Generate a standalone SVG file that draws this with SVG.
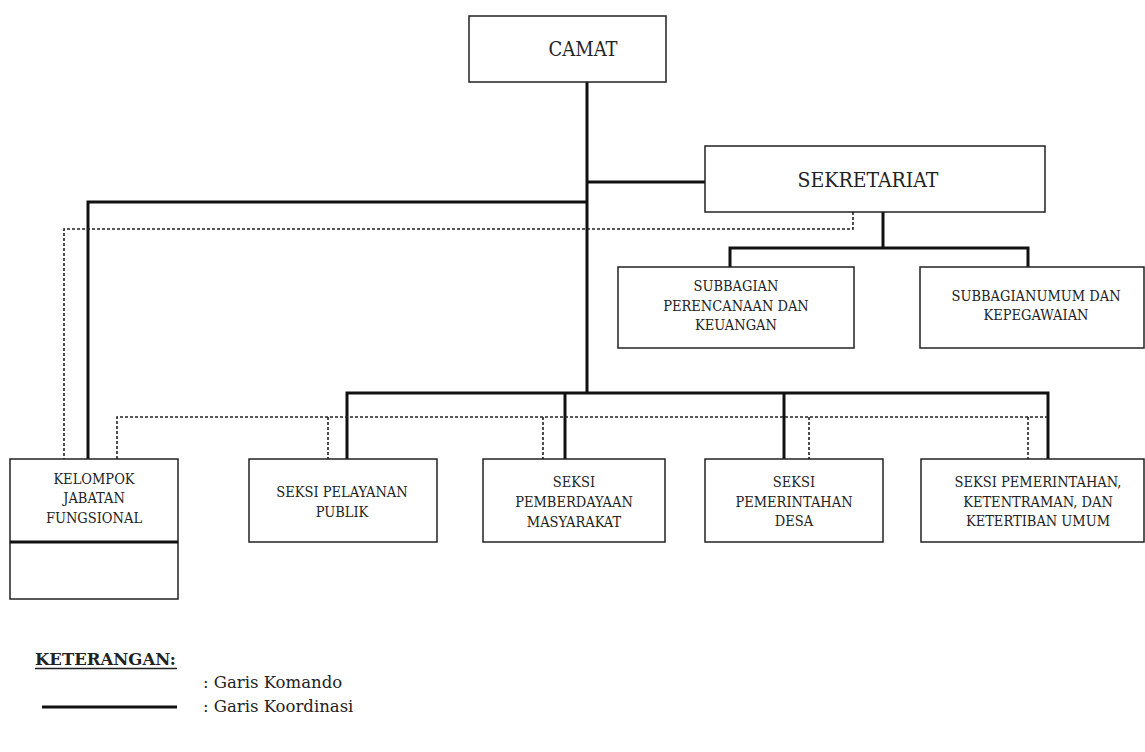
<svg xmlns="http://www.w3.org/2000/svg" width="1145" height="752" viewBox="0 0 1145 752">
<style>
.box{fill:#fff;stroke:#222;stroke-width:1.5}
.cmd{fill:none;stroke:#111;stroke-width:3}
.crd{fill:none;stroke:#222;stroke-width:1.6;stroke-dasharray:3 2}
.lbl{font-family:"DejaVu Serif Condensed","DejaVu Serif",serif;font-stretch:condensed;font-size:14.5px;fill:#222;text-anchor:middle}
.big{font-family:"DejaVu Serif Condensed","DejaVu Serif",serif;font-stretch:condensed;font-size:20px;fill:#222;text-anchor:middle}
.leg{font-family:"DejaVu Serif",serif;font-size:16.5px;fill:#222}
</style>
<rect width="1145" height="752" fill="#fff"/>
<g id="connectors">
<path class="cmd" d="M587 82 V393"/>
<path class="cmd" d="M587 182 H705"/>
<path class="cmd" d="M587 202 H88 V459"/>
<path class="cmd" d="M883 212 V248"/>
<path class="cmd" d="M730 267 V248 H1028 V267"/>
<path class="cmd" d="M347 459 V393 H1048 V459"/>
<path class="cmd" d="M565 393 V459"/>
<path class="cmd" d="M784 393 V459"/>
<path class="crd" d="M853 212 V229 H64 V459"/>
<path class="crd" d="M117 459 V417 H1048"/>
<path class="crd" d="M328 417 V459"/>
<path class="crd" d="M543 417 V459"/>
<path class="crd" d="M809 417 V459"/>
<path class="crd" d="M1028 417 V459"/>
</g>
<g id="camat">
<rect class="box" x="469" y="16" width="197" height="66"/>
<text class="big" x="583" y="56">CAMAT</text>
</g>
<g id="sekretariat">
<rect class="box" x="705" y="146" width="340" height="66"/>
<text class="big" x="868" y="187" style="font-size:21px">SEKRETARIAT</text>
</g>
<g id="subbagian-perencanaan">
<rect class="box" x="618" y="267" width="236" height="81"/>
<text class="lbl" x="736" y="291">SUBBAGIAN</text>
<text class="lbl" x="736" y="311">PERENCANAAN DAN</text>
<text class="lbl" x="736" y="330">KEUANGAN</text>
</g>
<g id="subbagian-umum">
<rect class="box" x="920" y="267" width="224" height="81"/>
<text class="lbl" x="1036" y="301">SUBBAGIANUMUM DAN</text>
<text class="lbl" x="1036" y="320">KEPEGAWAIAN</text>
</g>
<g id="kelompok">
<rect class="box" x="10" y="459" width="168" height="140"/>
<path d="M10 542 H178" stroke="#111" stroke-width="3"/>
<text class="lbl" x="94" y="484">KELOMPOK</text>
<text class="lbl" x="94" y="503">JABATAN</text>
<text class="lbl" x="94" y="523">FUNGSIONAL</text>
</g>
<g id="seksi-pelayanan">
<rect class="box" x="249" y="459" width="188" height="83"/>
<text class="lbl" x="342" y="497">SEKSI PELAYANAN</text>
<text class="lbl" x="342" y="517">PUBLIK</text>
</g>
<g id="seksi-pemberdayaan">
<rect class="box" x="483" y="459" width="182" height="83"/>
<text class="lbl" x="574" y="487">SEKSI</text>
<text class="lbl" x="574" y="507">PEMBERDAYAAN</text>
<text class="lbl" x="574" y="527">MASYARAKAT</text>
</g>
<g id="seksi-desa">
<rect class="box" x="705" y="459" width="178" height="83"/>
<text class="lbl" x="794" y="487">SEKSI</text>
<text class="lbl" x="794" y="507">PEMERINTAHAN</text>
<text class="lbl" x="794" y="526">DESA</text>
</g>
<g id="seksi-ketentraman">
<rect class="box" x="921" y="459" width="223" height="83"/>
<text class="lbl" x="1038" y="487">SEKSI PEMERINTAHAN,</text>
<text class="lbl" x="1038" y="507">KETENTRAMAN, DAN</text>
<text class="lbl" x="1038" y="526">KETERTIBAN UMUM</text>
</g>
<g id="legend">
<text class="leg" x="35" y="665" font-weight="bold">KETERANGAN:</text>
<path d="M35 668.5 H177" stroke="#222" stroke-width="1.5"/>
<text class="leg" x="203" y="688">: Garis Komando</text>
<path d="M42 707 H177" stroke="#111" stroke-width="3"/>
<text class="leg" x="203" y="712">: Garis Koordinasi</text>
</g>
</svg>
